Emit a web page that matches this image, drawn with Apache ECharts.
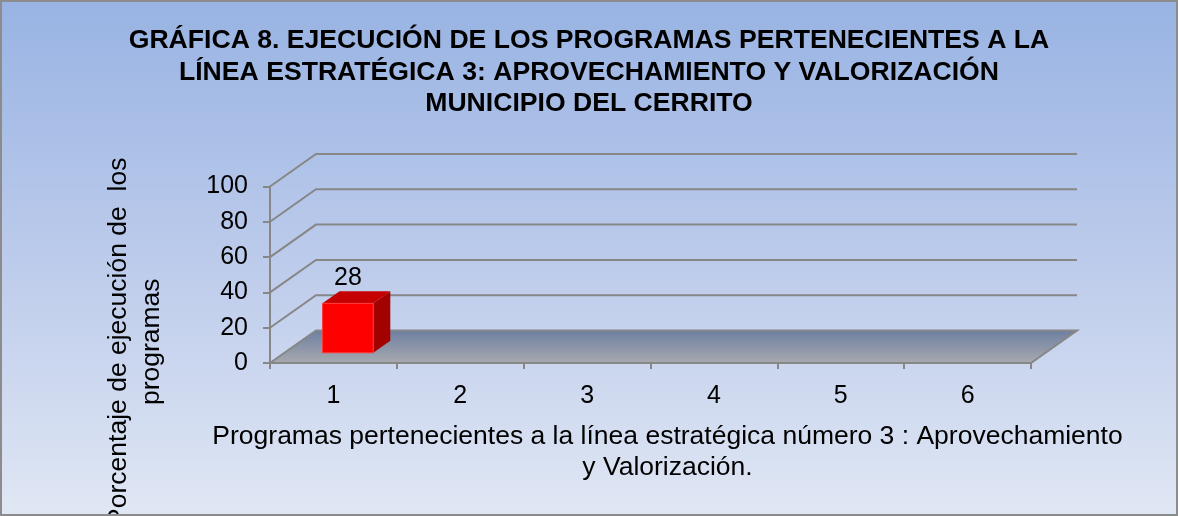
<!DOCTYPE html>
<html>
<head>
<meta charset="utf-8">
<script src="https://cdn.jsdelivr.net/npm/echarts@6/dist/echarts.min.js"></script>
<style>
  html, body { margin: 0; padding: 0; }
  #main { position: absolute; left: 0; top: 0; width: 1178px; height: 516px; }
  #marco { position: absolute; left: 0; top: 0; width: 1178px; height: 516px; box-sizing: border-box; border: 2px solid #8c8c8c; pointer-events: none; }
</style>
</head>
<body>
<div id="main"></div>
<div id="marco"></div>
<script>
var categorias = ['1', '2', '3', '4', '5', '6'];
var ejecucion = [28, null, null, null, null, null];
var marcasY = [0, 20, 40, 60, 80, 100];

var FUENTE = "'Liberation Sans', Arial, sans-serif";
var GRIS = '#878787';
// profundidad de la vista 3d (pared del fondo)
var DX = 46, DY = -32.5;

// lineas de la pared del fondo
function dibujarRejilla(params, api) {
  var y = api.coord([0, api.value(1)])[1];
  var cs = params.coordSys;
  return {
    type: 'polyline',
    shape: { points: [[cs.x, y], [cs.x + DX, y + DY], [cs.x + cs.width + DX, y + DY]] },
    style: { stroke: GRIS, lineWidth: 2, fill: null }
  };
}

// piso gris
function dibujarPiso(params, api) {
  var y = api.coord([0, 0])[1];
  var cs = params.coordSys;
  return {
    type: 'polygon',
    shape: { points: [[cs.x, y], [cs.x + DX, y + DY], [cs.x + cs.width + DX, y + DY], [cs.x + cs.width, y]] },
    style: {
      fill: new echarts.graphic.LinearGradient(0, 0, 0, 1, [
        { offset: 0, color: '#6c7ea0' },
        { offset: 1, color: '#a9abb0' }
      ]),
      stroke: GRIS, lineWidth: 2
    }
  };
}

// barra 3d
function dibujarBarra(params, api) {
  var v = api.value(1);
  if (v == null || isNaN(v)) return;
  var base = api.coord([api.value(0), 0]);
  var tope = api.coord([api.value(0), v]);
  var ancho = api.size([1, 0])[0] * 0.4;
  var f0 = 0.315, f1 = 0.685;
  var ox = DX * f0, oy = DY * f0;
  var dx = DX * (f1 - f0), dy = DY * (f1 - f0);
  var x0 = base[0] - ancho / 2 + ox, x1 = base[0] + ancho / 2 + ox;
  var yb = base[1] + oy, yt = tope[1] + oy;
  return {
    type: 'group',
    children: [
      { type: 'polygon', shape: { points: [[x1, yt], [x1 + dx, yt + dy], [x1 + dx, yb + dy], [x1, yb]] }, style: { fill: '#a30000' } },
      { type: 'polygon', shape: { points: [[x0, yt], [x0 + dx, yt + dy], [x1 + dx, yt + dy], [x1, yt]] }, style: { fill: '#c40000' } },
      { type: 'rect', shape: { x: x0, y: yt, width: x1 - x0, height: yb - yt }, style: { fill: '#ff0000', stroke: '#ff3a3a', lineWidth: 1 } },
      { type: 'text', x: (x0 + x1) / 2, y: yt - 25, style: { text: String(v), fill: '#000', font: '25px ' + FUENTE, align: 'center', verticalAlign: 'middle' } }
    ]
  };
}

var chart = echarts.init(document.getElementById('main'));
chart.setOption({
  backgroundColor: new echarts.graphic.LinearGradient(0, 0, 0, 1, [
    { offset: 0, color: '#98b3e3' },
    { offset: 0.5, color: '#bccbeb' },
    { offset: 1, color: '#e0e7f4' }
  ]),
  animation: false,
  title: {
    text: 'GRÁFICA 8. EJECUCIÓN DE LOS PROGRAMAS PERTENECIENTES A LA\nLÍNEA ESTRATÉGICA 3: APROVECHAMIENTO Y VALORIZACIÓN\nMUNICIPIO DEL CERRITO',
    left: 'center',
    top: 25,
    padding: 0,
    textStyle: { fontFamily: FUENTE, fontSize: 26.6, fontWeight: 'bold', color: '#000', lineHeight: 31.5 }
  },
  grid: { left: 270, right: 147, top: 186.5, bottom: 153, containLabel: false, outerBoundsMode: 'none' },
  xAxis: {
    type: 'category',
    data: categorias,
    axisLine: { show: true, lineStyle: { color: GRIS, width: 2 } },
    axisTick: { show: true, length: 6, lineStyle: { color: GRIS, width: 2 } },
    axisLabel: { fontFamily: FUENTE, fontSize: 25, color: '#000', margin: 21 },
    splitLine: { show: false },
    name: 'Programas pertenecientes a la línea estratégica número 3 : Aprovechamiento\ny Valorización.',
    nameLocation: 'middle',
    nameGap: 58,
    nameTextStyle: { fontFamily: FUENTE, fontSize: 26.5, color: '#000', lineHeight: 31, padding: [0, 0, 0, 34] }
  },
  yAxis: {
    type: 'value',
    min: marcasY[0],
    max: marcasY[marcasY.length - 1],
    interval: marcasY[1] - marcasY[0],
    axisLine: { show: true, lineStyle: { color: GRIS, width: 2 } },
    axisTick: { show: true, length: 7, lineStyle: { color: GRIS, width: 2 } },
    axisLabel: { fontFamily: FUENTE, fontSize: 25, color: '#000', margin: 22 },
    splitLine: { show: false },
    name: 'Porcentaje de ejecución de  los\nprogramas',
    nameLocation: 'middle',
    nameRotate: 90,
    nameGap: 102,
    nameTextStyle: { fontFamily: FUENTE, fontSize: 26.5, color: '#000', lineHeight: 33, padding: [0, 134, 0, 0] }
  },
  series: [
    {
      type: 'custom', z: 1, silent: true,
      renderItem: dibujarRejilla,
      data: marcasY.filter(function (v) { return v > 0; }).map(function (v) { return [0, v]; })
    },
    {
      type: 'custom', z: 2, silent: true,
      renderItem: dibujarPiso,
      data: [[0, 0]]
    },
    {
      type: 'custom', z: 3,
      renderItem: dibujarBarra,
      data: ejecucion.map(function (v, i) { return [i, v]; })
    }
  ]
});
</script>
</body>
</html>
